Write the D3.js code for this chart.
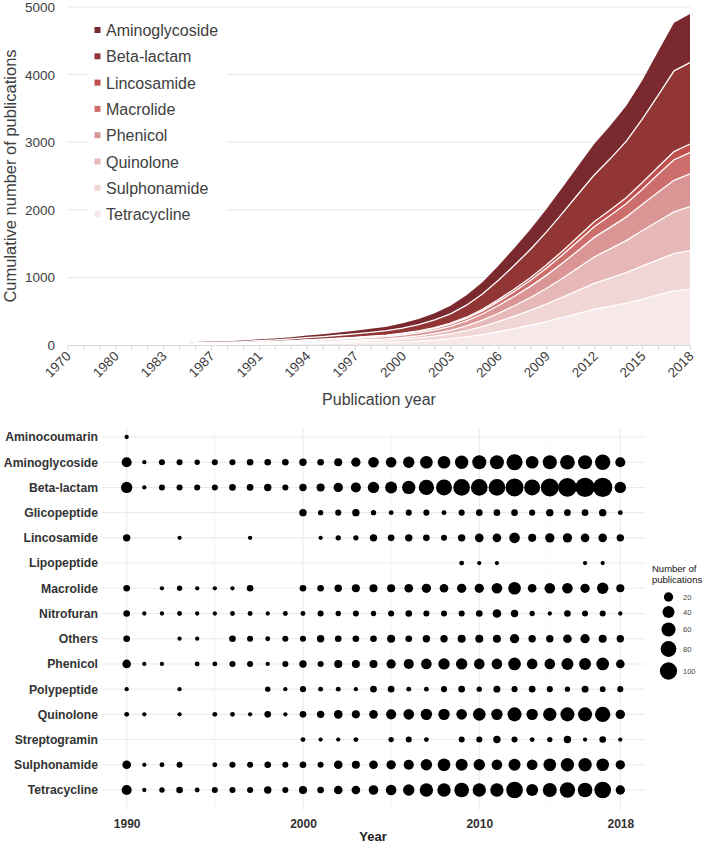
<!DOCTYPE html>
<html><head><meta charset="utf-8">
<script src="https://cdn.jsdelivr.net/npm/d3@7"></script>
<style>body{margin:0;background:#fff}svg{display:block}</style>
</head><body>
<svg id="c" width="714" height="849"></svg>
<script>
// ---------- DATA: top chart (cumulative publications) ----------
const areaYears = ["1970","1973","1978","1980","1981","1982","1983","1984","1986","1987","1988","1990","1991","1992","1993","1994","1995","1996","1997","1998","1999","2000","2001","2002","2003","2004","2005","2006","2007","2008","2009","2010","2011","2012","2013","2014","2015","2016","2017","2018"];
const areaTickLabels = ["1970","1980","1983","1987","1991","1994","1997","2000","2003","2006","2009","2012","2015","2018"];
const areaClasses = ["Aminoglycoside","Beta-lactam","Lincosamide","Macrolide","Phenicol","Quinolone","Sulphonamide","Tetracycline"];
const yTickValues = [0,1000,2000,3000,4000,5000];

const aminoglycosideCum = [0,0,0,0,0,0,0,0,11,12,12,14,19,21,25,31,35,41,46,52,58,69,83,99,119,146,176,216,256,296,338,379,418,458,490,522,573,647,712,721];
const betaLactamCum     = [0,0,0,0,0,0,0,0,11,13,13,15,20,23,28,33,38,44,50,58,65,77,93,113,139,178,226,286,350,416,487,560,628,691,756,835,937,1060,1195,1203];
const lincosamideCum    = [0,0,0,0,0,0,0,0,1,1,1,2,3,3,3,4,5,6,6,7,8,9,10,12,15,18,23,29,36,42,49,57,66,74,82,90,99,108,120,128];
const macrolideCum      = [0,0,0,0,0,0,0,0,3,3,3,4,5,6,7,8,10,11,13,14,16,18,21,25,30,37,46,58,72,87,104,122,141,158,176,196,224,265,305,315];
const phenicolCum       = [0,0,0,0,0,0,0,0,5,7,7,8,10,11,14,17,19,22,25,28,31,36,42,50,60,74,92,115,140,166,194,225,257,290,318,348,386,430,468,484];
const quinoloneCum      = [0,0,0,0,0,0,0,0,3,4,4,5,6,7,8,10,11,13,15,18,20,25,31,40,52,70,94,122,154,190,232,280,334,390,432,474,524,570,616,651];
const sulphonamideCum   = [0,0,0,0,0,0,0,0,5,7,7,8,10,11,14,17,19,22,25,29,33,39,47,58,72,92,118,150,184,219,258,299,342,384,418,452,492,520,552,571];
const tetracyclineCum   = [0,0,0,0,0,0,0,0,6,8,8,9,12,13,16,20,23,26,30,34,39,47,58,73,93,120,155,197,243,292,346,405,466,528,572,618,675,740,800,824];

// ---------- DATA: bottom chart (publications per year) ----------
const bubbleYears = [1990,1991,1992,1993,1994,1995,1996,1997,1998,1999,2000,2001,2002,2003,2004,2005,2006,2007,2008,2009,2010,2011,2012,2013,2014,2015,2016,2017,2018];
const bubbleXTicks = [1990,2000,2010,2018];
const bubbleClasses = ["Aminocoumarin","Aminoglycoside","Beta-lactam","Glicopeptide","Lincosamide","Lipopeptide","Macrolide","Nitrofuran","Others","Phenicol","Polypeptide","Quinolone","Streptogramin","Sulphonamide","Tetracycline"];
const _ = null;
const aminocoumarin  = [1,_,_,_,_,_,_,_,_,_,_,_,_,_,_,_,_,_,_,_,_,_,_,_,_,_,_,_,_];
const aminoglycoside = [25,1,5,5,3,5,5,7,7,7,10,7,13,20,29,29,35,46,46,53,60,60,83,46,60,67,60,75,25];
const betaLactam     = [35,1,5,5,5,5,7,7,10,5,10,13,20,25,35,40,53,75,83,92,92,92,110,83,110,120,130,130,35];
const glicopeptide   = [_,_,_,_,_,_,_,_,_,_,10,3,5,10,3,2,5,5,2,5,7,7,7,5,10,7,7,10,2];
const lincosamide    = [10,_,_,1,_,_,_,1,_,_,_,1,3,3,10,7,10,7,5,10,16,16,29,13,20,20,16,16,10];
const lipopeptide    = [_,_,_,_,_,_,_,_,_,_,_,_,_,_,_,_,_,_,_,2,1,1,_,_,_,_,1,1,_];
const macrolide      = [7,_,1,3,1,1,1,7,_,_,7,7,10,13,13,13,16,20,16,20,20,29,46,16,29,29,20,35,13];
const nitrofuran     = [7,1,1,2,1,1,2,2,1,2,2,5,3,5,3,5,7,5,5,5,7,16,10,3,1,7,5,5,1];
const others         = [7,_,_,1,1,_,7,5,2,5,5,10,7,7,7,13,7,10,10,13,13,13,20,10,10,16,20,13,10];
const phenicol       = [16,1,1,_,2,2,5,5,1,5,10,5,13,13,13,20,25,29,35,35,29,29,46,29,29,40,40,46,16];
const polypeptide    = [1,_,_,1,_,_,_,_,3,1,5,2,2,1,7,7,2,2,5,7,3,8,5,7,5,3,8,4,5];
const quinolone      = [2,1,_,1,_,2,2,1,7,1,7,10,16,13,16,25,29,35,35,29,46,35,60,35,53,60,60,75,20];
const streptogramin  = [_,_,_,_,_,_,_,_,_,_,2,1,1,2,_,3,5,2,_,5,5,10,5,2,3,10,1,7,1];
const sulphonamide   = [16,1,2,5,_,2,5,5,7,5,7,5,16,13,16,20,25,35,46,40,35,29,40,29,46,53,53,46,20];
const tetracycline   = [25,1,3,7,2,5,5,5,10,5,13,7,16,16,22,29,35,53,53,67,53,53,91,40,60,75,67,91,20];
const sizeLegendValues = [20,40,60,80,100];

// ---------- helpers ----------
const FONT = "'Liberation Sans', Arial, Helvetica, sans-serif";
const areaSeries = {"Aminoglycoside":aminoglycosideCum,"Beta-lactam":betaLactamCum,"Lincosamide":lincosamideCum,"Macrolide":macrolideCum,"Phenicol":phenicolCum,"Quinolone":quinoloneCum,"Sulphonamide":sulphonamideCum,"Tetracycline":tetracyclineCum};
const palette = ["#7a2a2e","#913634","#c0504d","#cc6e6b","#d99694","#e6b9b8","#f0d6d5","#f7e9e9"];
const color = d3.scaleOrdinal().domain(areaClasses).range(palette);
const bubbleSeries = {"Aminocoumarin":aminocoumarin,"Aminoglycoside":aminoglycoside,"Beta-lactam":betaLactam,"Glicopeptide":glicopeptide,"Lincosamide":lincosamide,"Lipopeptide":lipopeptide,"Macrolide":macrolide,"Nitrofuran":nitrofuran,"Others":others,"Phenicol":phenicol,"Polypeptide":polypeptide,"Quinolone":quinolone,"Streptogramin":streptogramin,"Sulphonamide":sulphonamide,"Tetracycline":tetracycline};

const svg = d3.select("#c").style("font-family", FONT);

// ================= TOP CHART =================
const gT = svg.append("g");
const xA = d3.scalePoint().domain(areaYears).range([67.3, 690]);
const yA = d3.scaleLinear().domain([0, 5000]).range([345, 7]);

gT.append("g").selectAll("line").data(yTickValues.filter(d => d > 0)).join("line")
  .attr("x1", 67.3).attr("x2", 690).attr("y1", d => yA(d)).attr("y2", d => yA(d))
  .attr("stroke", "#e6e6e6").attr("stroke-width", 1);

const rows = areaYears.map((yr, i) => {
  const o = {year: yr};
  areaClasses.forEach(c => o[c] = areaSeries[c][i]);
  return o;
});
const stackKeys = areaClasses.slice().reverse();
const stacked = d3.stack().keys(stackKeys)(rows);
const area = d3.area().x(d => xA(d.data.year)).y0(d => yA(d[0])).y1(d => yA(d[1]));
gT.append("g").selectAll("path").data(stacked).join("path")
  .attr("d", area).attr("fill", d => color(d.key));
const edge = d3.line().x(d => xA(d.data.year)).y(d => yA(d[1]));
gT.append("g").selectAll("path").data(stacked.slice(0, -1)).join("path")
  .attr("d", edge).attr("fill", "none").attr("stroke", "#fff").attr("stroke-width", 1.3);

// x axis
const xAxisA = d3.axisBottom(xA).tickValues(areaYears).tickSize(5).tickSizeOuter(0)
  .tickFormat(d => areaTickLabels.includes(d) ? d : "");
const gxA = gT.append("g").attr("transform", "translate(0,345)").call(xAxisA);
gxA.select(".domain").attr("stroke", "#d9d9d9");
gxA.selectAll(".tick line").attr("stroke", "#d9d9d9");
gxA.selectAll(".tick text")
  .attr("x", 0).attr("y", 0).attr("dy", null)
  .attr("transform", "translate(4,12) rotate(-45)")
  .attr("text-anchor", "end")
  .attr("font-size", 13.5).attr("font-family", FONT).attr("fill", "#404040");

// y labels
gT.append("g").selectAll("text").data(yTickValues).join("text")
  .attr("x", 55).attr("y", d => yA(d) + 5)
  .attr("text-anchor", "end").attr("font-size", 13.5).attr("fill", "#404040")
  .text(d => d);

gT.append("text").attr("transform", "translate(15.5,176) rotate(-90)")
  .attr("text-anchor", "middle").attr("font-size", 16.5).attr("fill", "#404040")
  .text("Cumulative number of publications");
gT.append("text").attr("x", 379).attr("y", 405)
  .attr("text-anchor", "middle").attr("font-size", 16).attr("fill", "#404040")
  .text("Publication year");

// legend
const gL = gT.append("g");
gL.append("rect").attr("x", 88).attr("y", 13).attr("width", 139).attr("height", 210).attr("fill", "#fff");
const lg = gL.selectAll("g").data(areaClasses).join("g")
  .attr("transform", (d, i) => `translate(0,${30 + i * 26.3})`);
lg.append("rect").attr("x", 94.5).attr("y", -3).attr("width", 6).attr("height", 6).attr("fill", d => color(d));
lg.append("text").attr("x", 106).attr("y", 6).attr("font-size", 16).attr("fill", "#404040").text(d => d);

// ================= BOTTOM CHART =================
const gB = svg.append("g");
const xB = d3.scaleLinear().domain([1988.6, 2019.4]).range([102, 645]);
const yB = d3.scalePoint().domain(bubbleClasses).range([437, 790]);
const rB = d3.scalePow().exponent(0.5).domain([0, 100]).range([1.415, 8.65]);
const panelTop = 428, panelBottom = 810;

gB.append("g").selectAll("line").data([1995, 2005, 2014]).join("line")
  .attr("x1", d => xB(d)).attr("x2", d => xB(d)).attr("y1", panelTop).attr("y2", panelBottom)
  .attr("stroke", "#f2f2f2").attr("stroke-width", 0.6);
gB.append("g").selectAll("line").data(bubbleXTicks).join("line")
  .attr("x1", d => xB(d)).attr("x2", d => xB(d)).attr("y1", panelTop).attr("y2", panelBottom)
  .attr("stroke", "#ebebeb").attr("stroke-width", 1.1);
gB.append("g").selectAll("line").data(bubbleClasses).join("line")
  .attr("x1", 102).attr("x2", 645).attr("y1", d => yB(d)).attr("y2", d => yB(d))
  .attr("stroke", "#ebebeb").attr("stroke-width", 1.1);

const pts = [];
bubbleClasses.forEach(c => bubbleSeries[c].forEach((v, i) => { if (v != null) pts.push({c, year: bubbleYears[i], v}); }));
gB.append("g").selectAll("circle").data(pts).join("circle")
  .attr("cx", d => xB(d.year)).attr("cy", d => yB(d.c)).attr("r", d => rB(d.v)).attr("fill", "#000");

const gyB = gB.append("g").attr("transform", "translate(102,0)")
  .call(d3.axisLeft(yB).tickSize(0).tickPadding(4));
gyB.select(".domain").remove();
gyB.selectAll("text").attr("font-size", 12.2).attr("font-weight", "bold").attr("font-family", FONT).attr("fill", "#333");

const gxB = gB.append("g").attr("transform", `translate(0,${panelBottom})`)
  .call(d3.axisBottom(xB).tickValues(bubbleXTicks).tickFormat(d3.format("d")).tickSize(0).tickPadding(9));
gxB.select(".domain").remove();
gxB.selectAll("text").attr("font-size", 12).attr("font-weight", "bold").attr("font-family", FONT).attr("fill", "#333");

gB.append("text").attr("x", 373).attr("y", 841).attr("text-anchor", "middle")
  .attr("font-size", 13).attr("font-weight", "bold").attr("fill", "#222").text("Year");

// size legend
const gS = gB.append("g");
gS.append("text").attr("x", 652).attr("y", 572).attr("font-size", 9.5).attr("fill", "#111").text("Number of");
gS.append("text").attr("x", 652).attr("y", 582.5).attr("font-size", 9.5).attr("fill", "#111").text("publications");
const keyY = [597, 612, 629.5, 649, 671];
const sk = gS.selectAll("g").data(sizeLegendValues).join("g")
  .attr("transform", (d, i) => `translate(0,${keyY[i]})`);
sk.append("circle").attr("cx", 668.5).attr("cy", 0).attr("r", d => rB(d)).attr("fill", "#000");
sk.append("text").attr("x", 683).attr("y", 2.7).attr("font-size", 7.5).attr("fill", "#444").text(d => d);
</script>
</body></html>
